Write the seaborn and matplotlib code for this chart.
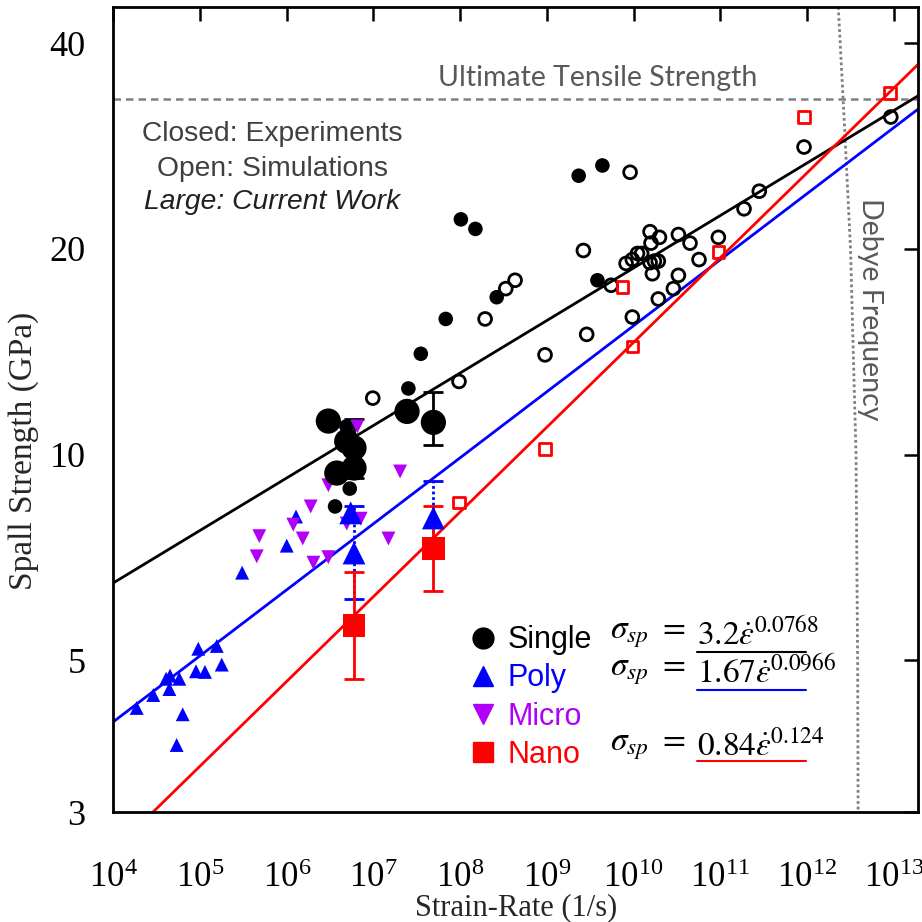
import numpy as np
import pandas as pd
import matplotlib
matplotlib.use("Agg")
import matplotlib.pyplot as plt
import seaborn as sns
from matplotlib.lines import Line2D
from matplotlib.ticker import FixedLocator, NullLocator, LogFormatterMathtext, FixedFormatter

sns.set_style("white")
plt.rcParams['font.family'] = ['Liberation Serif', 'DejaVu Serif']
plt.rcParams['mathtext.fontset'] = 'stix'

# ---------------- data ----------------
# Single crystal, experiments (closed small circles)
single_exp_rate = [2.33e9, 4.37e9, 1.02e8, 1.50e8, 2.64e8, 6.82e7, 3.52e7, 2.53e7, 3.83e9, 4.88e6, 5.33e6, 3.61e6]
single_exp_spall = [25.6, 26.5, 22.1, 21.4, 17.0, 15.8, 14.05, 12.5, 18.0, 11.0, 8.92, 8.40]

# Single crystal, current work (large closed circles)
single_cur_rate = [3.02e6, 4.92e6, 5.97e6, 5.97e6, 3.78e6, 2.44e7, 4.91e7]
single_cur_spall = [11.2, 10.46, 10.23, 9.56, 9.40, 11.57, 11.15]

# Single crystal, simulations (open circles)
single_sim_rate = [9.12e9, 2.64e9, 1.55e10, 1.99e10, 1.59e10, 3.29e10, 1.11e10, 1.24e10, 9.68e9, 8.20e9,
                   1.55e10, 1.74e10, 1.93e10, 1.65e10, 5.51e9, 4.30e8, 3.36e8, 1.94e8, 2.88e9, 9.68e9,
                   1.93e10, 2.88e10, 3.29e10, 9.53e8, 9.70e7, 9.82e6, 1.88e11, 4.48e10, 9.51e10, 5.69e10,
                   9.25e11, 9.27e12, 2.82e11]
single_sim_spall = [25.9, 19.9, 21.2, 20.8, 20.4, 21.0, 19.7, 19.7, 19.3, 19.05,
                    19.1, 19.2, 19.2, 18.4, 17.7, 18.0, 17.5, 15.8, 15.0, 15.9,
                    16.9, 17.5, 18.3, 14.0, 12.8, 12.1, 22.9, 20.4, 20.8, 19.3,
                    28.2, 31.2, 24.3]

# Poly crystal, experiments (small triangles)
poly_exp_rate = [9.55e4, 1.56e5, 1.78e5, 8.99e4, 1.14e5, 4.51e4, 4.06e4, 5.77e4, 4.43e4, 2.89e4,
                 1.86e4, 6.31e4, 5.38e4, 3.06e5, 1.00e6, 1.28e6]
poly_exp_spall = [5.20, 5.25, 4.93, 4.82, 4.81, 4.75, 4.70, 4.70, 4.54, 4.45,
                  4.26, 4.17, 3.76, 6.72, 7.36, 8.12]

# Poly crystal, current work (large triangles)
poly_cur_rate = [5.47e6, 5.97e6, 4.91e7]
poly_cur_spall = [8.22, 7.18, 8.08]
poly_cur_err_lo = [0.0, 1.04, 0.94]
poly_cur_err_hi = [0.0, 1.24, 1.06]

# Micro crystal, experiments (down triangles)
micro_exp_rate = [6.52e6, 2.03e7, 3.02e6, 1.89e6, 1.19e6, 4.83e5, 1.53e6, 4.92e6, 7.13e6, 1.49e7,
                  4.51e5, 2.03e6, 3.02e6]
micro_exp_spall = [11.0, 9.45, 9.02, 8.40, 7.90, 7.60, 7.54, 7.93, 8.06, 7.54,
                   7.10, 6.95, 7.08]

# Nano crystal, current work (large squares)
nano_cur_rate = [5.97e6, 4.91e7]
nano_cur_spall = [5.62, 7.29]
nano_cur_err_lo = [0.93, 0.98]
nano_cur_err_hi = [1.11, 1.12]

# Nano crystal, simulations (open squares)
nano_sim_rate = [7.43e9, 9.51e10, 9.68e9, 9.25e11, 9.08e12, 9.70e7, 9.53e8]
nano_sim_spall = [17.6, 19.8, 14.4, 31.2, 33.8, 8.51, 10.2]

# Single current-work error bars
single_err_rate = [5.97e6, 4.91e7]
single_err_spall = [10.23, 11.15]
single_err_lo = [1.00, 0.81]
single_err_hi = [1.05, 1.22]

# Power-law fits sigma = A * rate^n
fit_names = ["Single", "Poly", "Nano"]
fit_A = [3.2, 1.67, 0.84]
fit_n = [0.0768, 0.0966, 0.124]
fit_A_text = ["3.2", "1.67", "0.84"]
fit_n_text = ["0.0768", "0.0966", "0.124"]

uts_value = 33.2
debye_rate = [2.30e12, 2.72e12, 3.18e12, 3.68e12, 3.84e12, 3.89e12]
debye_spall = [45.2, 30, 20, 10, 5, 3]

x_min, x_max = 1e4, 1.91e13
y_min, y_max = 3, 45.2
y_ticks = [3, 5, 10, 20, 40]
x_ticks = [1e4, 1e5, 1e6, 1e7, 1e8, 1e9, 1e10, 1e11, 1e12, 1e13]

# ---------------- colours ----------------
c_single, c_poly, c_micro, c_nano = "black", "#0000FF", "#B000F8", "#FF0000"
c_gray = "#595959"

fig = plt.figure(figsize=(9.22, 9.22), dpi=100)
ax = fig.add_axes([0.1229, 0.1193, 0.8728, 0.8731])
ax.set_xscale("log")
ax.set_yscale("log")

# fits
xfit = np.array([x_min, x_max])
for A, n, c in zip(fit_A, fit_n, [c_single, c_poly, c_nano]):
    sns.lineplot(x=xfit, y=A * xfit ** n, color=c, linewidth=2, ax=ax, zorder=2)

# UTS line and Debye curve
ax.axhline(uts_value, color="#808080", linestyle=(0, (3, 2)), linewidth=1.8, zorder=1)
sns.lineplot(x=debye_rate, y=debye_spall, sort=False, color="#808080", linestyle=(0, (1, 1)),
             linewidth=2, ax=ax, zorder=1)

# error bars
eb = ax.errorbar(poly_cur_rate[1:], poly_cur_spall[1:], yerr=[poly_cur_err_lo[1:], poly_cur_err_hi[1:]],
                 fmt="none", ecolor=c_poly, elinewidth=2, capsize=7, capthick=2, zorder=3)
eb[2][0].set_linestyle((0, (1, 1)))
ax.errorbar(nano_cur_rate, nano_cur_spall, yerr=[nano_cur_err_lo, nano_cur_err_hi],
            fmt="none", ecolor=c_nano, elinewidth=2, capsize=7, capthick=2, zorder=3)
ax.errorbar(single_err_rate, single_err_spall, yerr=[single_err_lo, single_err_hi],
            fmt="none", ecolor=c_single, elinewidth=2, capsize=7, capthick=2, zorder=3)

# scatter points
sns.scatterplot(x=single_sim_rate, y=single_sim_spall, marker="o", s=85, facecolor="none",
                edgecolor=c_single, linewidth=2, ax=ax, zorder=4)
sns.scatterplot(x=nano_sim_rate, y=nano_sim_spall, marker="s", s=70, facecolor="none",
                edgecolor=c_nano, linewidth=2, ax=ax, zorder=4)
sns.scatterplot(x=single_exp_rate, y=single_exp_spall, marker="o", s=110, color=c_single,
                edgecolor="none", ax=ax, zorder=4)
sns.scatterplot(x=poly_exp_rate, y=poly_exp_spall, marker="^", s=100, color=c_poly,
                edgecolor="none", ax=ax, zorder=4)
sns.scatterplot(x=micro_exp_rate, y=micro_exp_spall, marker="v", s=100, color=c_micro,
                edgecolor="none", ax=ax, zorder=4)
sns.scatterplot(x=single_cur_rate, y=single_cur_spall, marker="o", s=330, color=c_single,
                edgecolor="none", ax=ax, zorder=5)
sns.scatterplot(x=poly_cur_rate, y=poly_cur_spall, marker="^", s=270, color=c_poly,
                edgecolor="none", ax=ax, zorder=5)
sns.scatterplot(x=nano_cur_rate, y=nano_cur_spall, marker="s", s=270, color=c_nano,
                edgecolor="none", ax=ax, zorder=5)

# axes
ax.set_xlim(x_min, x_max)
ax.set_ylim(y_min, y_max)
ax.xaxis.set_major_locator(FixedLocator(x_ticks))
ax.xaxis.set_major_formatter(LogFormatterMathtext())
ax.xaxis.set_minor_locator(NullLocator())
ax.yaxis.set_major_locator(FixedLocator(y_ticks))
ax.yaxis.set_major_formatter(FixedFormatter([str(t) for t in y_ticks]))
ax.yaxis.set_minor_locator(NullLocator())
ax.tick_params(which="both", direction="in", top=True, right=True, length=10, width=1.8,
               colors="black")
ax.tick_params(axis="x", pad=36, labelsize=25)
ax.tick_params(axis="y", pad=20, labelsize=26)
for sp in ax.spines.values():
    sp.set_linewidth(2)
    sp.set_color("black")

ax.set_xlabel("Strain-Rate (1/s)", fontsize=22, labelpad=-1)
ax.set_ylabel("Spall Strength (GPa)", fontsize=24)
ax.yaxis.set_label_coords(-0.0925, 0.448)

# annotations
ax.text(0.6023, 0.9118, "Ultimate Tensile Strength", transform=ax.transAxes, ha="center", va="center",
        color=c_gray, fontsize=20.5, family=["Lato", "DejaVu Sans"])
ax.text(0.9404, 0.6248, "Debye Frequency", transform=ax.transAxes, ha="center", va="center",
        rotation=270, color=c_gray, fontsize=20.5, family=["Lato", "DejaVu Sans"])
ax.text(0.1972, 0.8425, "Closed: Experiments", transform=ax.transAxes, ha="center", va="center",
        color="#404040", fontsize=20.3, family=["Liberation Sans", "DejaVu Sans"])
ax.text(0.1972, 0.7990, "Open: Simulations", transform=ax.transAxes, ha="center", va="center",
        color="#404040", fontsize=20.3, family=["Liberation Sans", "DejaVu Sans"])
ax.text(0.1972, 0.7580, "Large: Current Work", transform=ax.transAxes, ha="center", va="center",
        color="#202020", fontsize=20.3, style="italic", family=["Liberation Sans", "DejaVu Sans"])

# legend
handles = [
    Line2D([], [], marker="o", linestyle="none", color=c_single, markersize=15),
    Line2D([], [], marker="^", linestyle="none", color=c_poly, markersize=15),
    Line2D([], [], marker="v", linestyle="none", color=c_micro, markersize=15),
    Line2D([], [], marker="s", linestyle="none", color=c_nano, markersize=14),
]
labels = ["Single", "Poly", "Micro", "Nano"]
leg = ax.legend(handles, labels, loc="upper left", bbox_to_anchor=(0.446, 0.232), frameon=False,
                handlelength=0.7, handletextpad=0.45, labelspacing=0.27, borderpad=0, borderaxespad=0,
                prop={"family": ["Liberation Sans", "DejaVu Sans"], "size": 22})
for t, c in zip(leg.get_texts(), [c_single, c_poly, c_micro, c_nano]):
    t.set_color(c)

# equations
eq_y = [0.2200, 0.1739, 0.0810]
ul_y = [0.1990, 0.1516, 0.0634]
for A_t, n_t, c, yy, uy in zip(fit_A_text, fit_n_text, [c_single, c_poly, c_nano], eq_y, ul_y):
    ax.text(0.617, yy, r"$\sigma_{sp}$ $=$", transform=ax.transAxes, ha="left", va="center",
            fontsize=24, color="black")
    ax.text(0.725, yy, r"$%s\dot{\varepsilon}^{%s}$" % (A_t, n_t), transform=ax.transAxes,
            ha="left", va="center", fontsize=24, color="black")
    ax.plot([0.725, 0.861], [uy, uy], transform=ax.transAxes, color=c, linewidth=1.5, zorder=6)

fig.savefig("out.png", dpi=100)
